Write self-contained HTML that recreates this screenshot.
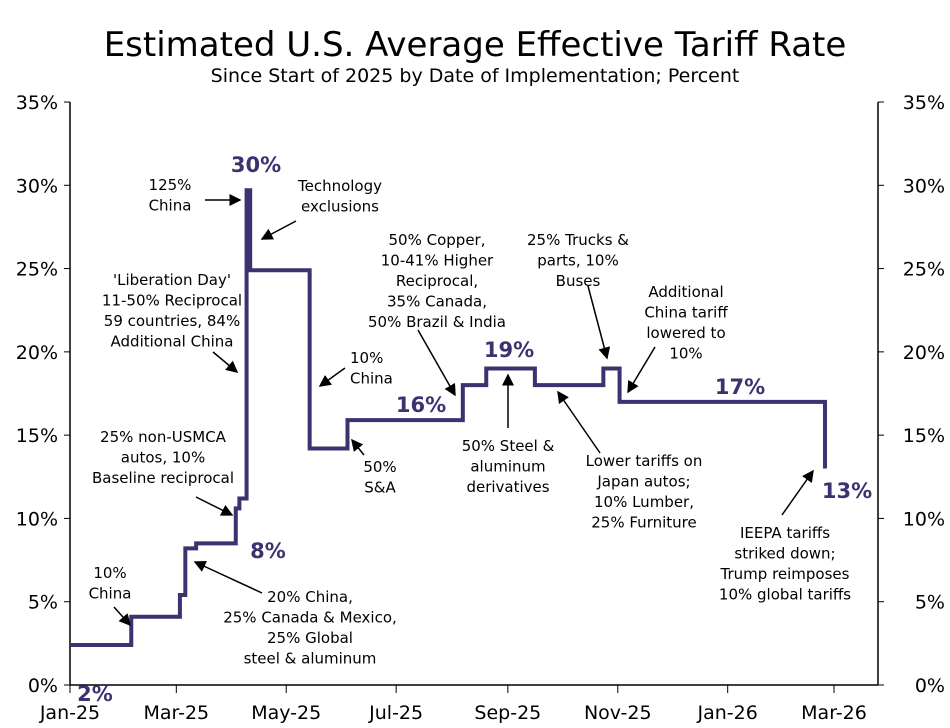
<!DOCTYPE html>
<html><head><meta charset="utf-8">
<style>
body{margin:0;background:#fff;}
svg{display:block;font-family:"DejaVu Sans","Liberation Sans",sans-serif;}
.ann{font-size:15px;fill:#000;}
.tick{font-size:19px;fill:#000;}
.val{font-size:21px;font-weight:bold;fill:#3b3270;}
</style></head>
<body>
<svg id="chart" width="950" height="728" viewBox="0 0 950 728">
<defs><marker id="ah" markerWidth="8" markerHeight="8" refX="7" refY="4" orient="auto"><path d="M0,0 L8,4 L0,8 z" fill="#000"/></marker></defs>
<text x="475" y="56" text-anchor="middle" font-size="34">Estimated U.S. Average Effective Tariff Rate</text>
<text x="475" y="82" text-anchor="middle" font-size="19">Since Start of 2025 by Date of Implementation; Percent</text>
<g id="axes"></g>
<g id="series"></g>
<g id="annotations" class="ann"></g>
</svg>
<script>
const stepDates=["2025-01-01","2025-02-04","2025-03-03","2025-03-06","2025-03-12","2025-04-03","2025-04-05","2025-04-09","2025-04-11","2025-05-14","2025-06-04","2025-08-07","2025-08-20","2025-09-16","2025-10-24","2025-11-02","2026-02-24"];
const stepValues=[2.4,4.1,5.4,8.2,8.5,10.6,11.2,29.7,24.9,14.2,15.9,18.0,19.0,18.0,19.0,17.0,13.0];
const yTicks=[0,5,10,15,20,25,30,35];
const xTickDates=["2025-01-01","2025-03-01","2025-05-01","2025-07-01","2025-09-01","2025-11-01","2026-01-01","2026-03-01"];
const xTickLabels=["Jan-25","Mar-25","May-25","Jul-25","Sep-25","Nov-25","Jan-26","Mar-26"];
const NS="http://www.w3.org/2000/svg";
const X0=70,X1=878,Y0=685,Y35=102;
const t0=Date.parse("2025-01-01"),t1=Date.parse("2026-03-01");
function xs(d){return X0+(Date.parse(d)-t0)/(t1-t0)*(834-X0);}
function ys(v){return Y0-v/35*(Y0-Y35);}
function mk(tag,attrs,parent){const e=document.createElementNS(NS,tag);for(const k in attrs)e.setAttribute(k,attrs[k]);parent.appendChild(e);return e;}
const axes=document.getElementById('axes');
let l=mk('line',{x1:X0,y1:Y35,x2:X0,y2:Y0,stroke:'#000','stroke-width':1.5},axes);


l=mk('line',{x1:X1,y1:Y35,x2:X1,y2:Y0,stroke:'#000','stroke-width':1.5},axes);


l=mk('line',{x1:X0,y1:Y0,x2:X1,y2:Y0,stroke:'#000','stroke-width':1.5},axes);


yTicks.forEach(v=>{
  const y=ys(v);
  mk('line',{x1:X0-6,y1:y,x2:X0,y2:y,stroke:'#000'},axes);
  mk('line',{x1:X1,y1:y,x2:X1+6,y2:y,stroke:'#000'},axes);
  let t=mk('text',{x:58,y:y+7,'text-anchor':'end',class:'tick'},axes);t.textContent=v+'%';
  
  
  t=mk('text',{x:945,y:y+7,'text-anchor':'end',class:'tick'},axes);t.textContent=v+'%';
  
  
});
xTickDates.forEach((d,i)=>{
  const x=xs(d);
  mk('line',{x1:x,y1:Y0,x2:x,y2:Y0+8,stroke:'#000'},axes);
  const t=mk('text',{x:x,y:719,'text-anchor':'middle',class:'tick'},axes);t.textContent=xTickLabels[i];
  
  
});
let d='M'+xs(stepDates[0])+','+ys(stepValues[0]);
for(let i=1;i<stepDates.length;i++){const x=xs(stepDates[i]);d+=' L'+x+','+ys(stepValues[i-1])+' L'+x+','+ys(stepValues[i]);}
const p=mk('path',{d:d,fill:'none',stroke:'#3b3270','stroke-width':4,'stroke-linejoin':'miter'},document.getElementById('series'));


const ann=document.getElementById('annotations');
function txt(lines,x,y,anchor,cls,name){const t=mk('text',{x:x,y:y,'text-anchor':anchor||'middle'},ann);if(cls)t.setAttribute('class',cls);
  lines.forEach((s,i)=>{const ts=mk('tspan',{x:x,dy:i?20.5:0},t);ts.textContent=s;});
  
  }
function arr(x1,y1,x2,y2){const a=mk('line',{x1,y1,x2,y2,stroke:'#000','stroke-width':1.5,'marker-end':'url(#ah)'},ann);
  
  }
txt(['10%','China'],110,578,'middle',null,'note-10-china-feb');arr(114,607,130,625);
txt(['2%'],95,701,'middle','val','label-2pct');
txt(['20% China,','25% Canada & Mexico,','25% Global','steel & aluminum'],310,602,'middle',null,'note-feb-mar');arr(262,593,195,562);
txt(['8%'],268,558,'middle','val','label-8pct');
txt(['25% non-USMCA','autos, 10%','Baseline reciprocal'],163,442,'middle',null,'note-autos-baseline');arr(196,497,232,515);
txt(['\'Liberation Day\'','11-50% Reciprocal','59 countries, 84%','Additional China'],172,285,'middle',null,'note-liberation-day');arr(213,352,237,372);
txt(['125%','China'],170,190,'middle',null,'note-125-china');arr(205,200,240,200);
txt(['30%'],256,172,'middle','val','label-30pct');
txt(['Technology','exclusions'],340,191,'middle',null,'note-tech-exclusions');arr(296,221,262,239);
txt(['10%','China'],350,363,'start',null,'note-10-china-may');arr(345,368,320,386);
txt(['50%','S&A'],380,472,'middle',null,'note-sa');arr(364,455,352,440);
txt(['16%'],421,412,'middle','val','label-16pct');
txt(['50% Copper,','10-41% Higher','Reciprocal,','35% Canada,','50% Brazil & India'],437,245,'middle',null,'note-copper');arr(418,330,455,395);
txt(['19%'],509,357,'middle','val','label-19pct');
txt(['50% Steel &','aluminum','derivatives'],508,451,'middle',null,'note-steel-derivatives');arr(508,428,508,375);
txt(['25% Trucks &','parts, 10%','Buses'],578,245,'middle',null,'note-trucks');arr(588,286,607,358);
txt(['Additional','China tariff','lowered to','10%'],686,297,'middle',null,'note-china-lowered');arr(655,347,628,392);
txt(['17%'],740,394,'middle','val','label-17pct');
txt(['Lower tariffs on','Japan autos;','10% Lumber,','25% Furniture'],644,466,'middle',null,'note-japan-lumber');arr(600,453,558,392);
txt(['13%'],847,498,'middle','val','label-13pct');
txt(['IEEPA tariffs','striked down;','Trump reimposes','10% global tariffs'],785,538,'middle',null,'note-ieepa');arr(782,515,813,471);
</script>
</body></html>
